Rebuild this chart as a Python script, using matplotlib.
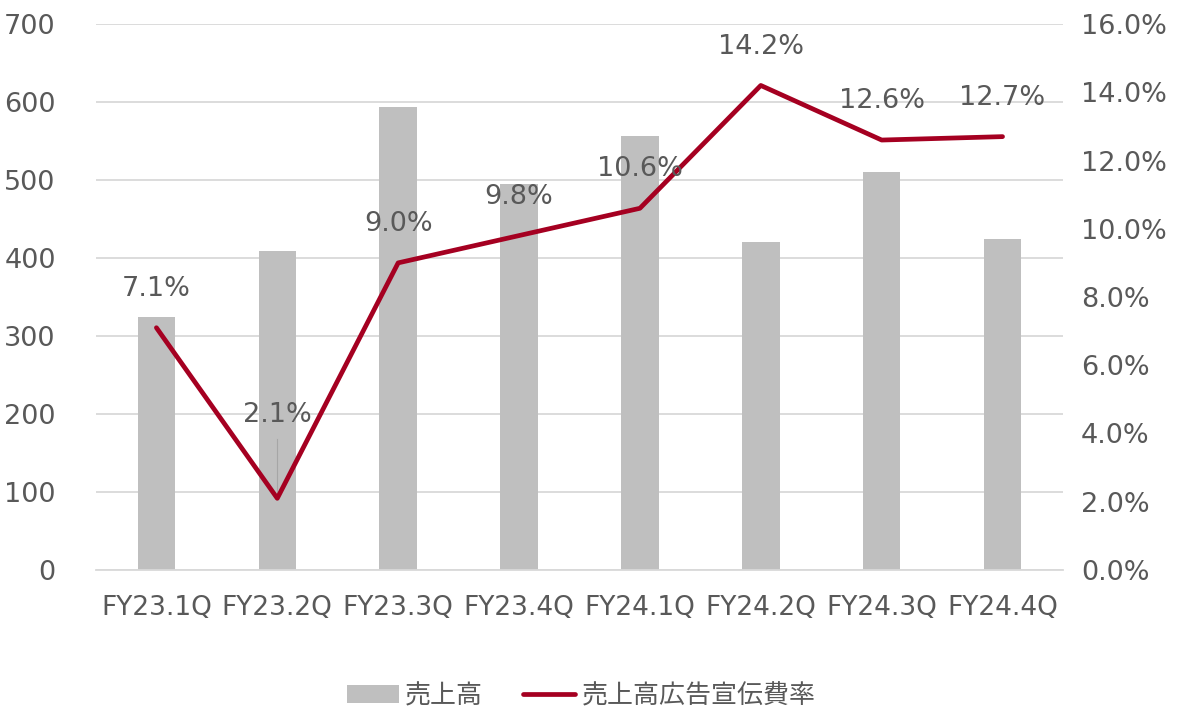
import numpy as np
import matplotlib.pyplot as plt

plt.rcParams['font.family'] = 'DejaVu Sans'

quarters = ['FY23.1Q', 'FY23.2Q', 'FY23.3Q', 'FY23.4Q',
            'FY24.1Q', 'FY24.2Q', 'FY24.3Q', 'FY24.4Q']
sales = [324, 409, 594, 495, 556, 420, 510, 425]
ad_ratio = [7.1, 2.1, 9.0, 9.8, 10.6, 14.2, 12.6, 12.7]

text_col = '#595959'
bar_col = '#BFBFBF'
line_col = '#A50021'
grid_col = '#D9D9D9'
fs = 19.5

fig = plt.figure(figsize=(11.79, 7.13), dpi=100)
ax = fig.add_axes([0.0814, 0.2006, 0.8202, 0.7657])
ax2 = ax.twinx()

x = np.arange(len(quarters))
ax.bar(x, sales, width=0.31, color=bar_col, zorder=2, label='売上高')
ax.set_ylim(0, 700)
ax.set_yticks(np.arange(0, 701, 100))
ax.set_xlim(-0.5, len(quarters) - 0.5)
ax.set_xticks(x)
ax.set_xticklabels(quarters)
ax.yaxis.grid(True, color=grid_col, linewidth=1.3, zorder=0)
ax.set_axisbelow(True)

ax2.plot(x, ad_ratio, color=line_col, linewidth=3.4, zorder=3,
         solid_capstyle='round', label='売上高広告宣伝費率')
ax2.set_ylim(0, 16)
ax2.set_yticks(np.arange(0, 16.1, 2))
ax2.set_yticklabels([f'{v:.1f}%' for v in np.arange(0, 16.1, 2)])

for a in (ax, ax2):
    for s in a.spines.values():
        s.set_visible(False)
    a.tick_params(length=0, labelsize=fs, labelcolor=text_col)
ax.tick_params(axis='x', labelsize=19)
ax.spines['bottom'].set_visible(True)
ax.spines['bottom'].set_color(grid_col)
ax.spines['bottom'].set_linewidth(1.3)
ax.tick_params(axis='x', pad=18)
ax.tick_params(axis='y', pad=29)
ax2.tick_params(axis='y', pad=13)

# data labels
for i, v in enumerate(ad_ratio):
    dy = 28
    if i == 1:
        dy = 60
        ax2.plot([i, i], [v + 0.15, v + 1.75], color='#A6A6A6',
                 linewidth=0.8, zorder=2)
    ax2.annotate(f'{v:.1f}%', xy=(i, v), xytext=(0, dy),
                 textcoords='offset points', ha='center', va='center',
                 fontsize=fs, color=text_col, zorder=4)

h1, l1 = ax.get_legend_handles_labels()
h2, l2 = ax2.get_legend_handles_labels()
leg = fig.legend(h1 + h2, l1 + l2, loc='center', bbox_to_anchor=(0.493, 0.024),
                 ncol=2, frameon=False, fontsize=18.7, handlelength=2.0,
                 handletextpad=0.25, columnspacing=1.55)
for t in leg.get_texts():
    t.set_color(text_col)
    t.set_family(['Noto Sans CJK JP'])

fig.savefig('out.png', dpi=100)
